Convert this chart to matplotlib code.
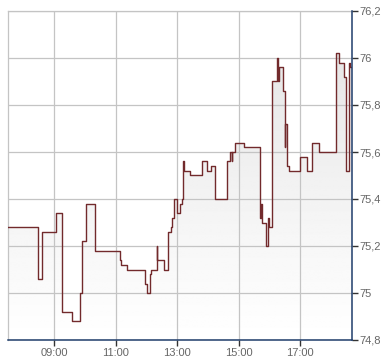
import numpy as np
import pandas as pd
import matplotlib
matplotlib.use("Agg")
import matplotlib.pyplot as plt
import matplotlib.dates as mdates
from matplotlib.ticker import FuncFormatter

# intraday price ticks (step chart, value holds until next time)
times = ["07:30", "08:29", "08:37", "09:03", "09:16", "09:35", "09:51", "09:55",
         "10:02", "10:20", "11:08", "11:10", "11:22", "11:58", "12:01", "12:07",
         "12:09", "12:20", "12:21", "12:34", "12:42", "12:47", "12:50", "12:54",
         "13:00", "13:06", "13:09", "13:12", "13:13", "13:25", "13:48", "13:59",
         "14:06", "14:14", "14:38", "14:43", "14:46", "14:47", "14:53", "15:11",
         "15:41", "15:44", "15:45", "15:53", "15:58", "15:59", "16:04", "16:05",
         "16:15", "16:16", "16:18", "16:27", "16:30", "16:31", "16:34", "16:38",
         "16:59", "17:14", "17:23", "17:36", "18:09", "18:16", "18:26", "18:30",
         "18:35", "18:37"]
prices = [75.28, 75.06, 75.26, 75.34, 74.92, 74.88, 75.00, 75.22,
          75.38, 75.18, 75.14, 75.12, 75.10, 75.04, 75.00, 75.08,
          75.10, 75.20, 75.14, 75.10, 75.26, 75.28, 75.32, 75.40,
          75.34, 75.38, 75.40, 75.56, 75.52, 75.50, 75.56, 75.52,
          75.54, 75.40, 75.56, 75.60, 75.56, 75.60, 75.64, 75.62,
          75.32, 75.38, 75.30, 75.20, 75.32, 75.28, 75.70, 75.90,
          76.00, 75.90, 75.96, 75.86, 75.62, 75.72, 75.54, 75.52,
          75.58, 75.52, 75.64, 75.60, 76.02, 75.98, 75.92, 75.52,
          75.98, 75.96]
end_time = "18:41"
x_ticks = ["09:00", "11:00", "13:00", "15:00", "17:00"]
y_ticks = [74.8, 75.0, 75.2, 75.4, 75.6, 75.8, 76.0, 76.2]

day = "2020-01-02 "
t = pd.to_datetime([day + s for s in times + [end_time]])
p = np.array(prices + [prices[-1]])
xn = mdates.date2num(t)

fig = plt.figure(figsize=(3.9, 3.64), dpi=100)
ax = fig.add_axes([8 / 390, 1 - 340 / 364, 344 / 390, 329 / 364])

grid_c = "#c4c4c4"
ymin, ymax = y_ticks[0], y_ticks[-1]

# gradient fill under the line (grid stays visible on top of it)
poly = ax.fill_between(xn, p, ymin, step="post", facecolor="none", edgecolor="none")
grad = np.linspace(0.89, 1.0, 256).reshape(-1, 1)
im = ax.imshow(grad, cmap="gray", vmin=0, vmax=1, aspect="auto",
               extent=[xn[0], xn[-1], ymin, ymax], origin="upper", zorder=1)
im.set_clip_path(poly.get_paths()[0], transform=ax.transData)

ax.step(xn, p, where="post", color="#722a2c", lw=1.0, zorder=3)

ax.set_xlim(xn[0], xn[-1])
ax.set_ylim(ymin, ymax)

ax.set_xticks(mdates.date2num(pd.to_datetime([day + s for s in x_ticks])))
ax.xaxis.set_major_formatter(mdates.DateFormatter("%H:%M"))
ax.set_yticks(y_ticks)
ax.yaxis.set_major_formatter(FuncFormatter(lambda v, pos: f"{round(v, 1):g}".replace(".", ",")))
ax.yaxis.tick_right()

ax.set_axisbelow(False)
ax.grid(True, color=grid_c, lw=0.9, zorder=2)
for s in ["left", "top"]:
    ax.spines[s].set_color(grid_c)
    ax.spines[s].set_linewidth(0.9)
for s in ["right", "bottom"]:
    ax.spines[s].set_color("#1f3d6b")
    ax.spines[s].set_linewidth(1.1)
    ax.spines[s].set_zorder(4)

ax.tick_params(axis="both", colors="#333333", labelcolor="#666666",
               labelsize=8, length=4, width=1)
ax.tick_params(axis="y", pad=1)
ax.tick_params(axis="x", pad=2)
for lab in ax.get_xticklabels() + ax.get_yticklabels():
    lab.set_fontfamily("Liberation Sans")

fig.savefig("out.png", dpi=100)
